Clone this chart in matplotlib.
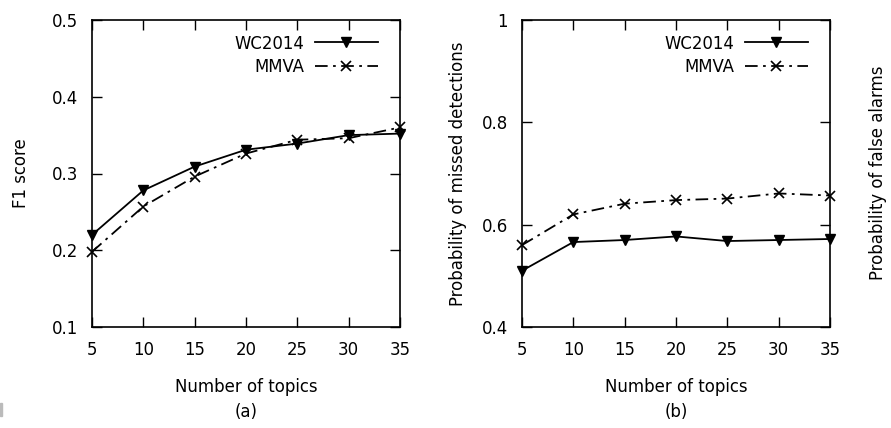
import matplotlib
matplotlib.use("Agg")
import matplotlib.pyplot as plt

topics = [5, 10, 15, 20, 25, 30, 35]
f1_wc2014 = [0.220, 0.278, 0.309, 0.331, 0.339, 0.350, 0.352]
f1_mmva = [0.198, 0.257, 0.296, 0.326, 0.344, 0.346, 0.360]
miss_wc2014 = [0.510, 0.566, 0.570, 0.577, 0.568, 0.570, 0.572]
miss_mmva = [0.560, 0.620, 0.641, 0.648, 0.651, 0.661, 0.657]

plt.rcParams['font.family'] = ['DejaVu Sans']
plt.rcParams['font.stretch'] = 'condensed'
fs = 13.2

fig = plt.figure(figsize=(8.91, 4.28), dpi=100)
W, H = 891, 428
ax1 = fig.add_axes([92 / W, 1 - 327 / H, 308 / W, 307 / H])
ax2 = fig.add_axes([522 / W, 1 - 327 / H, 308 / W, 307 / H])

def style(ax):
    ax.tick_params(direction='in', length=7, width=1, top=True, right=True,
                   labelsize=fs, pad=10)
    for s in ax.spines.values():
        s.set_linewidth(1.2)
    ax.set_xlim(5, 35)
    ax.set_xticks(topics)

for ax, wc, mm in [(ax1, f1_wc2014, f1_mmva), (ax2, miss_wc2014, miss_mmva)]:
    ax.plot(topics, wc, '-', color='black', lw=1.3, marker='v', ms=7.5,
            label='WC2014', clip_on=False)
    ax.plot(topics, mm, '-.', color='black', lw=1.3, marker='x', ms=7.5, mew=1.2,
            dashes=(7, 3, 1.5, 3), label='MMVA', clip_on=False)
    style(ax)
    ax.legend(loc='upper right', frameon=False, markerfirst=False, fontsize=fs,
              handlelength=3.4, handletextpad=0.6, borderaxespad=0.4,
              labelspacing=0.3, bbox_to_anchor=(0.975, 1.0))

ax1.set_ylim(0.1, 0.5)
ax1.set_yticks([0.1, 0.2, 0.3, 0.4, 0.5])
ax1.set_ylabel('F1 score', fontsize=fs, labelpad=16)
ax1.set_xlabel('Number of topics\n(a)', fontsize=fs, labelpad=14, linespacing=1.5)

ax2.set_ylim(0.4, 1.0)
ax2.set_yticks([0.4, 0.6, 0.8, 1.0])
ax2.set_yticklabels(['0.4', '0.6', '0.8', '1'])
ax2.set_ylabel('Probability of missed detections', fontsize=fs, labelpad=11)
ax2.set_xlabel('Number of topics\n(b)', fontsize=fs, labelpad=14, linespacing=1.5)
fig.text(878 / W, 1 - 173 / H, 'Probability of false alarms', rotation=90,
         ha='center', va='center', fontsize=fs)

fig.patches.append(matplotlib.patches.Rectangle((0, 1 - 416 / H), 2 / W, 13 / H,
                   transform=fig.transFigure, color='#bbbbbb', figure=fig))

fig.savefig('out.png', dpi=100)
